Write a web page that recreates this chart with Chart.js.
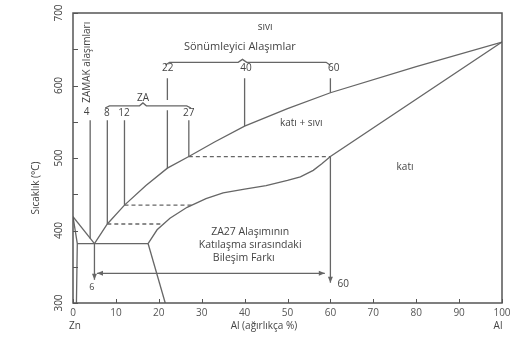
<!DOCTYPE html>
<html>
<head>
<meta charset="UTF-8" />
<script src="https://cdn.jsdelivr.net/npm/chart.js"></script>
<style>
  body { margin: 0; background: #fff; }
  #wrap { width: 526px; height: 339px; }
</style>
</head>
<body>
<div id="wrap"><canvas id="chart" width="526" height="339"></canvas></div>
<script>
// eksenler
const xTicks = [0, 10, 20, 30, 40, 50, 60, 70, 80, 90, 100];
const yTickLabels = [300, 400, 500, 600, 700];

// faz sinirlari [Al %, sicaklik]
const liquidusZn = [[0, 419], [5, 382]];
const liquidusAl = [[5, 382], [8, 409], [12, 435], [17, 462], [22, 486], [27, 502], [33, 522], [40, 544], [50, 568], [60, 590], [80, 626], [100, 660]];
const solidus = [[17.5, 382], [19.6, 401], [22.6, 417], [26.6, 432], [31, 444], [35, 452], [40, 457], [45, 462], [50, 469], [53, 474], [56, 483], [58, 492], [60, 502], [100, 660]];
const eutectic = [[1, 382], [17.5, 382]];
const znSolvus = [[0, 419], [1, 382], [0.8, 300]];
const alSolvus = [[17.5, 382], [21.5, 300]];

// kesikli bag cizgileri
const tie8 = [[8, 409], [21.1, 409]];
const tie12 = [[12, 435], [27.8, 435]];
const tie27 = [[27, 502], [60, 502]];

// alasim cizgileri
const alloy4 = [[4, 552], [4, 389]];
const alloy8 = [[8, 552], [8, 409]];
const alloy12 = [[12, 552], [12, 435]];
const alloy22a = [[22, 610], [22, 580]];
const alloy22b = [[22, 566], [22, 486]];
const alloy27 = [[27, 552], [27, 502]];
const alloy40 = [[40, 610], [40, 544]];
const alloy60 = [[60, 610], [60, 590]];

// parantezler
const braceDamping = [[21.5, 628], [22.5, 632], [38.5, 632], [39.5, 636], [40.5, 632], [59, 632], [60, 628]];
const braceZA = [[7.5, 569], [8.5, 572], [15.5, 572], [16.3, 576], [17.1, 572], [26.5, 572], [27.5, 569]];

// oklar [x1, y1, x2, y2]
const arrowsOneWay = [[60, 502, 60, 328], [5, 382, 5, 332]];
const arrowsTwoWay = [[5.6, 341, 58.7, 341]];

const lineColor = '#666';
const textColor = '#444';
const font = '"Open Sans", sans-serif';

function toPts(arr) { return arr.map(p => ({ x: p[0], y: p[1] })); }
function ds(arr, dashed) {
  return {
    data: toPts(arr), showLine: true, borderColor: lineColor, borderWidth: 1.3,
    pointRadius: 0, fill: false, tension: 0, borderDash: dashed ? [4, 3] : []
  };
}

const solidLines = [liquidusZn, liquidusAl, solidus, eutectic, znSolvus, alSolvus,
  alloy4, alloy8, alloy12, alloy22a, alloy22b, alloy27, alloy40, alloy60, braceDamping, braceZA];
const dashedLines = [tie8, tie12, tie27];

const labels = [
  { t: 'sıvı', x: 44.8, y: 681, s: 10 },
  { t: 'Sönümleyici Alaşımlar', x: 38.9, y: 653, s: 11 },
  { t: '22', x: 22.1, y: 624, s: 10 },
  { t: '40', x: 40.3, y: 624, s: 10 },
  { t: '60', x: 60.8, y: 624, s: 10 },
  { t: 'ZA', x: 16.3, y: 583, s: 10 },
  { t: '4', x: 3.2, y: 563, s: 10 },
  { t: '8', x: 7.9, y: 562, s: 10 },
  { t: '12', x: 11.9, y: 562, s: 10 },
  { t: '27', x: 27, y: 562, s: 10 },
  { t: 'katı + sıvı', x: 53.2, y: 548, s: 10 },
  { t: 'katı', x: 77.4, y: 488, s: 10 },
  { t: 'ZA27 Alaşımının', x: 41.3, y: 398, s: 10.5 },
  { t: 'Katılaşma sırasındaki', x: 41.3, y: 380, s: 10.5 },
  { t: 'Bileşim Farkı', x: 39.8, y: 362, s: 10.5 },
  { t: '60', x: 63, y: 326, s: 10 },
  { t: '6', x: 4.4, y: 321, s: 9 }
];

function arrowHead(ctx, x1, y1, x2, y2) {
  const a = Math.atan2(y2 - y1, x2 - x1), L = 6, w = 2.5;
  ctx.beginPath();
  ctx.moveTo(x2, y2);
  ctx.lineTo(x2 - L * Math.cos(a) + w * Math.sin(a), y2 - L * Math.sin(a) - w * Math.cos(a));
  ctx.lineTo(x2 - L * Math.cos(a) - w * Math.sin(a), y2 - L * Math.sin(a) + w * Math.cos(a));
  ctx.closePath();
  ctx.fill();
}

const decor = {
  id: 'decor',
  afterDatasetsDraw(chart) {
    const { ctx, chartArea: a, scales: { x, y } } = chart;
    ctx.save();
    // cerceve
    ctx.strokeStyle = '#555';
    ctx.lineWidth = 1.5;
    ctx.strokeRect(a.left, a.top, a.right - a.left, a.bottom - a.top);
    // ic tikler
    ctx.lineWidth = 1;
    ctx.beginPath();
    for (let v = 300; v <= 700; v += 50) {
      const py = Math.round(y.getPixelForValue(v)) + 0.5;
      ctx.moveTo(a.left, py); ctx.lineTo(a.left + 5, py);
    }
    xTicks.forEach(v => {
      const px = Math.round(x.getPixelForValue(v)) + 0.5;
      ctx.moveTo(px, a.bottom); ctx.lineTo(px, a.bottom - 4);
    });
    ctx.stroke();

    // oklar
    ctx.strokeStyle = lineColor; ctx.fillStyle = lineColor; ctx.lineWidth = 1.3;
    const line = (r, both) => {
      const x1 = x.getPixelForValue(r[0]), y1 = y.getPixelForValue(r[1]);
      const x2 = x.getPixelForValue(r[2]), y2 = y.getPixelForValue(r[3]);
      ctx.beginPath(); ctx.moveTo(x1, y1); ctx.lineTo(x2, y2); ctx.stroke();
      arrowHead(ctx, x1, y1, x2, y2);
      if (both) arrowHead(ctx, x2, y2, x1, y1);
    };
    arrowsOneWay.forEach(r => line(r, false));
    arrowsTwoWay.forEach(r => line(r, true));

    // metinler
    ctx.fillStyle = textColor;
    ctx.textAlign = 'center'; ctx.textBaseline = 'middle';
    labels.forEach(l => {
      ctx.font = l.s + 'px ' + font;
      ctx.fillText(l.t, x.getPixelForValue(l.x), y.getPixelForValue(l.y));
    });

    // dondurulmus metinler
    const rot = (t, px, py, size) => {
      ctx.save();
      ctx.translate(px, py); ctx.rotate(-Math.PI / 2);
      ctx.font = size + 'px ' + font;
      ctx.fillText(t, 0, 0);
      ctx.restore();
    };
    rot('ZAMAK alaşımları', x.getPixelForValue(3.3), y.getPixelForValue(632), 10);
    yTickLabels.forEach(v => rot(String(v), a.left - 14, y.getPixelForValue(v), 10));
    rot('Sıcaklık (°C)', 36, 188, 10);

    // x ekseni yazilari
    ctx.font = '10px ' + font;
    ctx.fillStyle = '#555';
    xTicks.forEach(v => ctx.fillText(String(v), x.getPixelForValue(v), a.bottom + 10));
    ctx.fillStyle = textColor;
    ctx.fillText('Zn', x.getPixelForValue(0) + 2, 326);
    ctx.fillText('Al', x.getPixelForValue(100) - 4, 326);
    ctx.fillText('Al (ağırlıkça %)', x.getPixelForValue(44.5), 326);
    ctx.restore();
  }
};

new Chart(document.getElementById('chart'), {
  type: 'scatter',
  data: {
    datasets: solidLines.map(l => ds(l, false)).concat(dashedLines.map(l => ds(l, true)))
  },
  options: {
    responsive: false,
    animation: false,
    layout: { padding: { top: 13, right: 24, left: 0, bottom: 0 } },
    plugins: { legend: { display: false }, tooltip: { enabled: false } },
    scales: {
      x: {
        type: 'linear', min: 0, max: 100,
        afterBuildTicks: s => { s.ticks = xTicks.map(v => ({ value: v })); },
        afterFit: s => { s.height = 36; },
        grid: { display: false }, border: { display: false },
        ticks: { display: false }
      },
      y: {
        type: 'linear', min: 300, max: 700,
        afterFit: s => { s.width = 73; },
        grid: { display: false }, border: { display: false },
        ticks: { display: false, stepSize: 50 }
      }
    }
  },
  plugins: [decor]
});
</script>
</body>
</html>
